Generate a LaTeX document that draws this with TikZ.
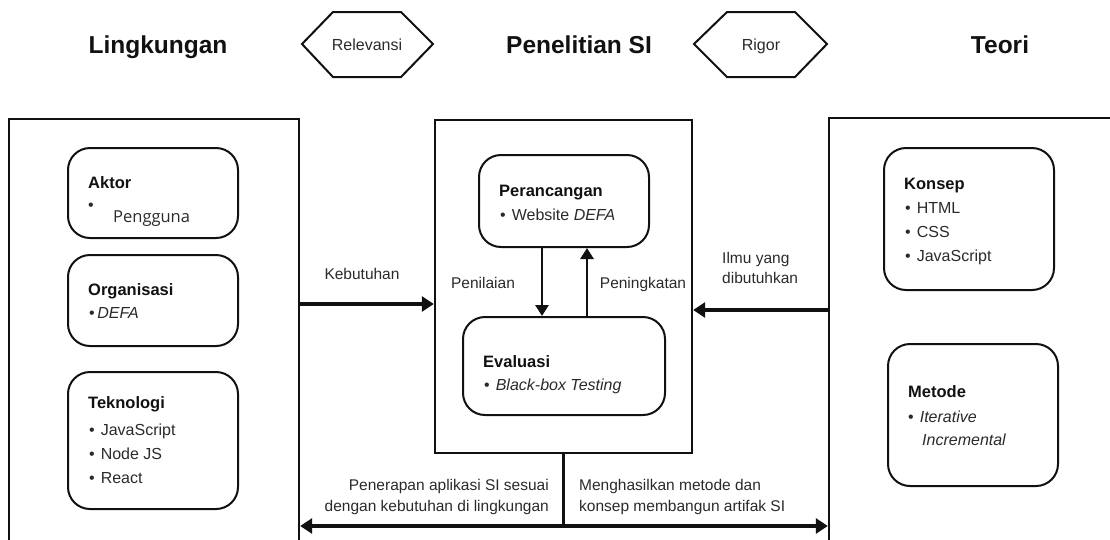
\documentclass[tikz,border=0pt]{standalone}
\usepackage{fontspec}
\setmainfont{Liberation Sans}
\newfontfamily\osans{Open Sans}
\usetikzlibrary{arrows.meta}
\definecolor{ink}{HTML}{111111}
\definecolor{soft}{HTML}{2A2A2A}
\begin{document}
\begin{tikzpicture}[x=1pt,y=-1pt,
  outerbox/.style={draw=ink,line width=2.4pt,inner sep=0pt},
  roundbox/.style={draw=ink,line width=2pt,rounded corners=22pt,inner sep=0pt,minimum width=170pt},
  hexline/.style={draw=ink,line width=2pt,line join=miter},
  header/.style={anchor=base,inner sep=0pt,text=ink,font=\fontsize{24.5}{28}\selectfont\bfseries},
  hextext/.style={anchor=base,inner sep=0pt,text=soft,font=\fontsize{16}{19}\selectfont},
  boxtitle/.style={anchor=base west,inner sep=0pt,text=ink,font=\fontsize{16.5}{19}\selectfont\bfseries},
  itm/.style={anchor=base west,inner sep=0pt,text=soft,font=\fontsize{16}{19}\selectfont},
  lbl/.style={inner sep=0pt,text=soft,font=\fontsize{15.5}{18}\selectfont},
  bigarrow/.style={draw=ink,line width=3.4pt,-{Triangle[length=12pt,width=15pt]}},
  dblarrow/.style={draw=ink,line width=3.4pt,{Triangle[length=12pt,width=15pt]}-{Triangle[length=12pt,width=15pt]}},
  smallarrow/.style={draw=ink,line width=2.8pt,-{Triangle[length=11pt,width=13pt]}},
  plainline/.style={draw=ink,line width=3pt}
]
\useasboundingbox (0,0) rectangle (1110,539);
\clip (0,0) rectangle (1110,539);

% headers
\node[header] (hling) at (158,53) {Lingkungan};
\node[header] (hpen) at (579,53) {Penelitian SI};
\node[header] (hteori) at (1000,53) {Teori};

% hexagons
\draw[hexline] (302,44) -- (333,12) -- (401,12) -- (433,44) -- (401,77) -- (333,77) -- cycle;
\node[hextext] (relev) at (367,50) {Relevansi};
\draw[hexline] (694,44) -- (727,12) -- (795,12) -- (827,44) -- (795,77) -- (727,77) -- cycle;
\node[hextext] (rigor) at (761,50) {Rigor};

% outer boxes
\node[outerbox,minimum width=290pt,minimum height=441pt] (lbox) at (154,339.5) {};
\node[outerbox,minimum width=257pt,minimum height=333pt] (cbox) at (563.5,286.5) {};
\node[outerbox,minimum width=291pt,minimum height=442pt] (rbox) at (974.5,339) {};

% left rounded boxes
\node[roundbox,minimum height=90pt] (aktor) at (153,193) {};
\node[roundbox,minimum height=91pt] (org) at (153,300.5) {};
\node[roundbox,minimum height=137pt] (tek) at (153,440.5) {};

\node[boxtitle] (taktor) at (88,188) {Aktor};
\node[itm] (baktor) at (88,210) {•};
\node[itm,font=\fontsize{16.5}{19}\osans] (pengguna) at (113,222) {Pengguna};

\node[boxtitle] (torg) at (88,295) {Organisasi};
\node[itm] (iorg) at (89,318) {•\hspace{2.5pt}\textit{DEFA}};

\node[boxtitle] (ttek) at (88,408) {Teknologi};
\node[itm] (itek1) at (89,435) {•\hspace{6pt}JavaScript};
\node[itm] (itek2) at (89,459) {•\hspace{6pt}Node JS};
\node[itm] (itek3) at (89,483) {•\hspace{6pt}React};

% center boxes
\node[roundbox,minimum height=92pt] (peran) at (564,201) {};
\node[roundbox,minimum width=202pt,minimum height=98pt] (eval) at (564,366) {};

\node[boxtitle] (tperan) at (499,196) {Perancangan};
\node[itm] (iperan) at (500,220) {•\hspace{6pt}Website \textit{DEFA}};
\node[boxtitle] (teval) at (483,367) {Evaluasi};
\node[itm] (ieval) at (484,390) {•\hspace{6pt}\textit{Black-box Testing}};

\draw[smallarrow] ([xshift=-22pt]peran.south) -- ([xshift=-22pt]peran.south |- eval.north);
\draw[smallarrow] ([xshift=23pt]eval.north) -- ([xshift=23pt]eval.north |- peran.south);
\node[lbl,anchor=base] (penilaian) at (483,288) {Penilaian};
\node[lbl,anchor=base] (peningkatan) at (643,288) {Peningkatan};

% right rounded boxes
\node[roundbox,minimum height=142pt] (konsep) at (969,219) {};
\node[roundbox,minimum height=142pt] (metode) at (973,415) {};

\node[boxtitle] (tkonsep) at (904,189) {Konsep};
\node[itm] (ik1) at (905,213) {•\hspace{6pt}HTML};
\node[itm] (ik2) at (905,237) {•\hspace{6pt}CSS};
\node[itm] (ik3) at (905,261) {•\hspace{6pt}JavaScript};

\node[boxtitle] (tmetode) at (908,397) {Metode};
\node[itm] (im1) at (908,422) {•\hspace{6pt}\textit{Iterative}};
\node[itm] (im2) at (922,445) {\textit{Incremental}};

% connectors between the three areas
\coordinate (ky) at (0,304);
\coordinate (iy) at (0,310);
\coordinate (by) at (0,526);
\draw[bigarrow] (lbox.east |- ky) -- (cbox.west |- ky);
\draw[bigarrow] (rbox.west |- iy) -- (cbox.east |- iy);
\draw[plainline] (cbox.south) -- (cbox.south |- by);
\draw[dblarrow] (lbox.east |- by) -- (rbox.west |- by);

\node[lbl,anchor=base] (keb) at (362,279) {Kebutuhan};
\node[lbl,anchor=base west] (ilmu1) at (722,263) {Ilmu yang};
\node[lbl,anchor=base west] (ilmu2) at (722,283) {dibutuhkan};

\node[lbl,anchor=base east] (pen1) at (549,490) {Penerapan aplikasi SI sesuai};
\node[lbl,anchor=base east] (pen2) at (549,511) {dengan kebutuhan di lingkungan};
\node[lbl,anchor=base west] (meng1) at (579,490) {Menghasilkan metode dan};
\node[lbl,anchor=base west] (meng2) at (579,511) {konsep membangun artifak SI};
\end{tikzpicture}
\end{document}
